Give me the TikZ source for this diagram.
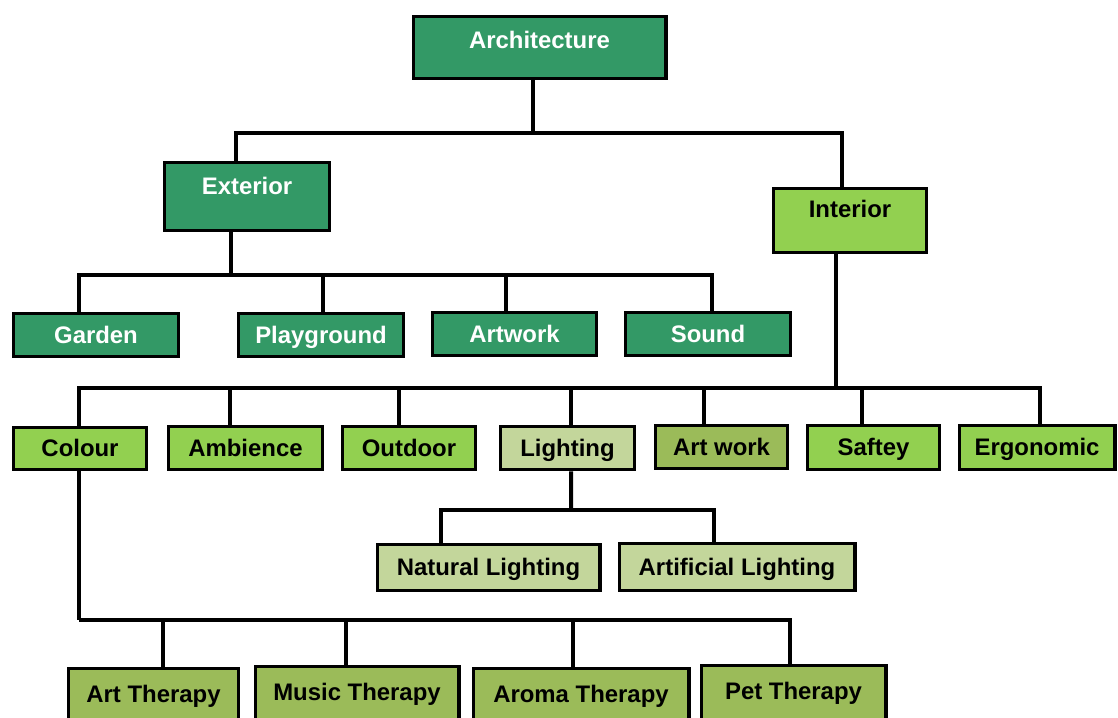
\documentclass[tikz,border=0pt]{standalone}
\usepackage{fontspec}
\setmainfont{Liberation Sans}
\usepackage{tikz}
\usetikzlibrary{calc}
\usetikzlibrary{positioning}

\definecolor{darkgreen}{RGB}{51,153,102}
\definecolor{lightgreen}{RGB}{146,208,80}
\definecolor{palegreen}{RGB}{195,214,155}
\definecolor{olivegreen}{RGB}{155,187,89}

\tikzset{
  box/.style={draw=black, line width=2.8pt, inner sep=0pt,
    font=\fontsize{17}{20}\selectfont\bfseries,
    text height=1.2em, text depth=0.05em},
  darkbox/.style={box, fill=darkgreen, text=white},
  lightbox/.style={box, fill=lightgreen},
  palebox/.style={box, fill=palegreen},
  olivebox/.style={box, fill=olivegreen},
  link/.style={line width=2.85pt}
}

\begin{document}
\begin{tikzpicture}[x=0.025cm, y=-0.025cm]
    \useasboundingbox (0,0) rectangle (1118,717);
    % Top levels
    \node[darkbox, minimum width=6.3cm, minimum height=1.55cm, text depth=0.05em+0.35cm]
      (arch) at (539.5,47.5) {Architecture};
    \node[darkbox, minimum width=4.125cm, minimum height=1.7cm, text depth=0.05em+0.5cm]
      (ext) at (247,196.5) {Exterior};
    \node[lightbox, minimum width=3.825cm, minimum height=1.6cm, text depth=0.05em+0.55cm]
      (int) at (850,220.5) {Interior};

    % Exterior
    \node[darkbox, minimum width=4.125cm, minimum height=1.075cm] (garden) at (96,335) {Garden};
    \node[darkbox, minimum width=4.125cm, minimum height=1.075cm] (play) at (321,335) {Playground};
    \node[darkbox, minimum width=4.1cm, minimum height=1.075cm] (artwork) at (514.5,334) {Artwork};
    \node[darkbox, minimum width=4.125cm, minimum height=1.075cm] (sound) at (708,334) {Sound};

    % Interior
    \node[lightbox, minimum width=3.325cm, minimum height=1.05cm] (colour) at (80,448.5) {Colour};
    \node[lightbox, minimum width=3.85cm, minimum height=1.075cm] (amb) at (245.5,448) {Ambience};
    \node[lightbox, minimum width=3.325cm, minimum height=1.075cm] (outd) at (409,448) {Outdoor};
    \node[palebox, minimum width=3.35cm, minimum height=1.075cm] (light) at (567.5,448) {Lighting};
    \node[olivebox, minimum width=3.3cm, minimum height=1.075cm] (artw) at (721.5,447) {Art work};
    \node[lightbox, minimum width=3.3cm, minimum height=1.1cm] (safe) at (873.5,447.5) {Saftey};
    \node[lightbox, minimum width=3.875cm, minimum height=1.1cm] (ergo) at (1037,447.5) {Ergonomic};

    % Lighting
    \node[palebox, minimum width=5.55cm, minimum height=1.15cm] (nat) at (488.5,567.5) {Natural Lighting};
    \node[palebox, minimum width=5.875cm, minimum height=1.175cm] (artl) at (737,567) {Artificial Lighting};

    % Therapies
    \node[olivebox, anchor=north, minimum width=4.25cm, minimum height=1.6cm, text depth=0.05em+0.3cm]
      (artt) at (153.5,666.5) {Art Therapy};
    \node[olivebox, anchor=north, minimum width=5.075cm, minimum height=1.6cm, text depth=0.05em+0.3cm]
      (music) at (357,664.5) {Music Therapy};
    \node[olivebox, anchor=north, minimum width=5.375cm, minimum height=1.6cm, text depth=0.05em+0.3cm]
      (aroma) at (581,666.5) {Aroma Therapy};
    \node[olivebox, anchor=north, minimum width=4.6cm, minimum height=1.6cm, text depth=0.05em+0.3cm]
      (pet) at (793.5,663.5) {Pet Therapy};

    % Connectors
    \coordinate (j0) at (533,133);
    \coordinate (j1) at (231,275);
    \coordinate (j2) at (836,388);
    \coordinate (j3) at (571,510);
    \coordinate (j4) at (79,620);

    \draw[link] ($(arch.south)+(-6.5,0)$) -- (j0);
    \draw[link] ($(ext.north)+(-11,0)$) |- (j0);
    \draw[link] ($(int.north)+(-8,0)$) |- (j0);

    \draw[link] ($(ext.south)+(-16,0)$) -- (j1);
    \draw[link] ($(garden.north)+(-17,0)$) |- (j1);
    \draw[link] ($(play.north)+(2,0)$) |- (j1);
    \draw[link] ($(artwork.north)+(-8.5,0)$) |- (j1);
    \draw[link] ($(sound.north)+(4,0)$) |- (j1);

    \draw[link] ($(int.south)+(-14,0)$) -- (j2);
    \draw[link] ($(colour.north)+(-1,0)$) |- (j2);
    \draw[link] ($(amb.north)+(-15.5,0)$) |- (j2);
    \draw[link] ($(outd.north)+(-10,0)$) |- (j2);
    \draw[link] ($(light.north)+(3.5,0)$) |- (j2);
    \draw[link] ($(artw.north)+(-17.5,0)$) |- (j2);
    \draw[link] ($(safe.north)+(-11.5,0)$) |- (j2);
    \draw[link] ($(ergo.north)+(3,0)$) |- (j2);

    \draw[link] ($(light.south)+(3.5,0)$) -- (j3);
    \draw[link] ($(nat.north)+(-47.5,0)$) |- (j3);
    \draw[link] ($(artl.north)+(-23,0)$) |- (j3);

    \draw[link] ($(colour.south)+(-1,0)$) -- (j4);
    \draw[link] ($(artt.north)+(9.5,0)$) |- (j4);
    \draw[link] ($(music.north)+(-11,0)$) |- (j4);
    \draw[link] ($(aroma.north)+(-8,0)$) |- (j4);
    \draw[link] ($(pet.north)+(-3.5,0)$) |- (j4);
\end{tikzpicture}
\end{document}
